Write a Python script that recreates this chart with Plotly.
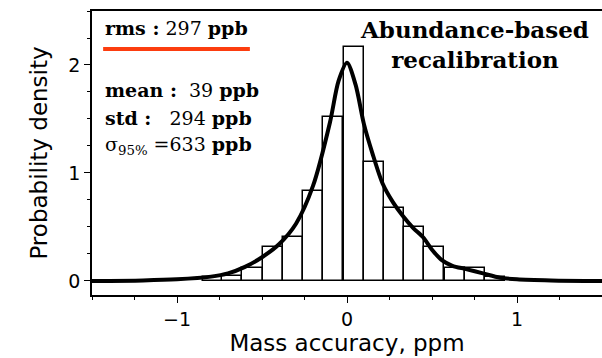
import plotly.graph_objects as go

# histogram bins (centres, ppm) and densities
bin_centers = [-0.79, -0.674, -0.556, -0.437, -0.318, -0.199, -0.080, 0.040,
               0.158, 0.277, 0.396, 0.514, 0.633, 0.751, 0.870]
bin_width = 0.1185
bin_density = [0.04, 0.05, 0.12, 0.31, 0.41, 0.83, 1.52, 2.17,
               1.10, 0.68, 0.50, 0.31, 0.12, 0.12, 0.04]

# density curve
kde_x = [-1.5, -1.2, -1.0, -0.8, -0.7, -0.6, -0.5, -0.4, -0.3, -0.2, -0.1, -0.05,
         0.0, 0.05, 0.1, 0.15, 0.21, 0.27, 0.33, 0.39, 0.45, 0.5, 0.56, 0.62, 0.7,
         0.8, 0.9, 1.0, 1.2, 1.5]
kde_y = [0.0, 0.005, 0.015, 0.04, 0.07, 0.13, 0.22, 0.34, 0.53, 0.88, 1.47, 1.85,
         2.02, 1.82, 1.45, 1.18, 0.9, 0.73, 0.6, 0.49, 0.40, 0.29, 0.19, 0.14, 0.11,
         0.07, 0.03, 0.015, 0.005, 0.0]

x_ticks = [-1, 0, 1]
y_ticks = [0, 1, 2]

fig = go.Figure()
fig.add_trace(go.Bar(x=bin_centers, y=bin_density, width=bin_width,
                     marker=dict(color="white", line=dict(color="black", width=1.5)),
                     showlegend=False))
fig.add_trace(go.Scatter(x=kde_x, y=kde_y, mode="lines", line=dict(color="black", width=4, shape="spline", smoothing=0.8),
                         showlegend=False))

px0, sx = 347.3, 170.3
py0, sy = 281.0, 108.0
def dx(p): return (p - px0) / sx
def dy(p): return (py0 - p) / sy

serif = "DejaVu Serif"
ann = [
    dict(text="<b>rms :</b> 297 <b>ppb</b>", x=dx(103), y=dy(28), xanchor="left", size=19),
    dict(text="<b>mean :</b>  39 <b>ppb</b>", x=dx(103), y=dy(90), xanchor="left", size=19),
    dict(text="<b>std :</b>   294 <b>ppb</b>", x=dx(103), y=dy(118), xanchor="left", size=19),
    dict(text="σ<sub>95%</sub> =633 <b>ppb</b>", x=dx(103), y=dy(146), xanchor="left", size=19),
    dict(text="<b>Abundance-based</b><br><b>recalibration</b>", x=dx(475), y=dy(44), xanchor="center", size=23),
]
for a in ann:
    fig.add_annotation(text=a["text"], x=a["x"], y=a["y"], xref="x", yref="y",
                       xanchor=a["xanchor"], yanchor="middle", showarrow=False, align="center",
                       font=dict(family=serif, size=a["size"], color="black"))

fig.add_shape(type="line", x0=dx(103), x1=dx(250), y0=dy(49), y1=dy(49), xref="x", yref="y",
              line=dict(color="#fc3d0f", width=4))

fig.update_layout(
    width=602, height=358,
    margin=dict(l=92, r=0, t=11, b=63),
    paper_bgcolor="white", plot_bgcolor="white",
    bargap=0,
    font=dict(family="DejaVu Sans", color="black"),
)
fig.update_xaxes(range=[-1.5, 1.5], tickvals=x_ticks, ticktext=["−1", "0", "1"],
                 ticks="outside", ticklen=6, tickwidth=1, tickcolor="black",
                 minor=dict(dtick=0.25, tick0=0, ticks="outside", ticklen=3, tickcolor="black"),
                 showline=True, linecolor="black", linewidth=1.5, mirror=True, showgrid=False, zeroline=False,
                 tickfont=dict(size=19, family="DejaVu Sans"),
                 title=dict(text="Mass accuracy, ppm", font=dict(size=23, family="DejaVu Sans"), standoff=1))
fig.update_yaxes(range=[-0.13, 2.5], tickvals=y_ticks,
                 ticks="outside", ticklen=6, tickwidth=1, tickcolor="black",
                 minor=dict(dtick=0.25, tick0=0, ticks="outside", ticklen=3, tickcolor="black"),
                 showline=True, linecolor="black", linewidth=1.5, showgrid=False, zeroline=False,
                 tickfont=dict(size=19, family="DejaVu Sans"),
                 title=dict(text="Probability density", font=dict(size=23, family="DejaVu Sans"), standoff=14))

fig.write_html("out.html")
